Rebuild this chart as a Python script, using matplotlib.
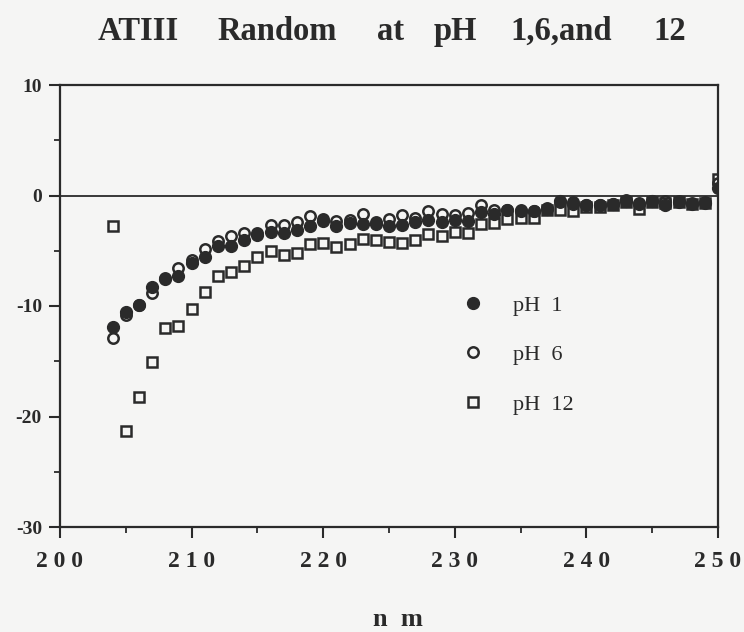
import matplotlib
matplotlib.use("Agg")
import matplotlib.pyplot as plt
import matplotlib.ticker as mticker
import numpy as np

plt.rcParams.update({
    "font.family": "Liberation Serif",
    "axes.unicode_minus": False,
    "figure.facecolor": "#f5f5f4",
    "axes.facecolor": "#f5f5f4",
})

# data
nm = np.arange(204, 251)

ph1 = [-11.9, -10.5, -9.9, -8.3, -7.6, -7.3, -6.1, -5.6, -4.6, -4.6,
       -4.0, -3.6, -3.3, -3.4, -3.1, -2.8, -2.3, -2.8, -2.5, -2.6,
       -2.6, -2.8, -2.7, -2.4, -2.2, -2.4, -2.2, -2.3, -1.5, -1.7,
       -1.3, -1.4, -1.4, -1.2, -0.5, -0.8, -0.9, -0.9, -0.8, -0.5,
       -0.8, -0.5, -0.9, -0.6, -0.8, -0.7, 0.7]

ph6 = [-12.9, -10.8, -9.9, -8.8, -7.5, -6.6, -5.8, -4.8, -4.1, -3.7,
       -3.4, -3.4, -2.7, -2.7, -2.4, -1.9, -2.1, -2.3, -2.2, -1.7,
       -2.4, -2.1, -1.8, -2.0, -1.4, -1.7, -1.8, -1.6, -0.9, -1.3,
       -1.3, -1.3, -1.4, -1.1, -0.6, -0.6, -0.9, -0.9, -0.8, -0.4,
       -0.7, -0.5, -0.5, -0.5, -0.7, -0.6, 1.1]

ph12 = [-2.8, -21.3, -18.2, -15.1, -12.0, -11.8, -10.3, -8.7, -7.3, -6.9,
        -6.4, -5.6, -5.0, -5.4, -5.2, -4.4, -4.3, -4.7, -4.4, -3.9,
        -4.0, -4.2, -4.3, -4.0, -3.5, -3.7, -3.3, -3.4, -2.6, -2.5,
        -2.1, -2.0, -2.0, -1.3, -1.3, -1.4, -1.0, -1.0, -0.9, -0.6,
        -1.2, -0.6, -0.7, -0.6, -0.8, -0.7, 1.5]

xticks = [200, 210, 220, 230, 240, 250]
xtick_labels = ["2 0 0", "2 1 0", "2 2 0", "2 3 0", "2 4 0", "2 5 0"]
yticks = [-30, -20, -10, 0, 10]

# title words, spread out like the typeset original
title_words = ["ATIII", "Random", "at", "pH", "1,6,and", "12"]
title_x = [98, 217, 377, 434, 510, 653]   # left edges, pixels

INK = "#2a2a2a"
W, H = 744, 632

fig = plt.figure(figsize=(W / 100, H / 100), dpi=100)
ax = fig.add_axes([60 / W, 1 - 527 / H, 658 / W, 442 / H])

ax.axhline(0, color=INK, lw=1.3, zorder=1)

ax.plot(nm, ph12, ls="none", marker="s", ms=7.5, mfc="none", mec=INK, mew=1.8,
        label="pH  12", zorder=2)
ax.plot(nm, ph1, ls="none", marker="o", ms=8.5, mfc=INK, mec=INK, mew=1,
        label="pH  1", zorder=3)
ax.plot(nm, ph6, ls="none", marker="o", ms=7.5, mfc="none", mec=INK, mew=1.8,
        label="pH  6", zorder=4)

ax.set_xlim(200, 250)
ax.set_ylim(-30, 10)
ax.set_xticks(xticks)
ax.xaxis.set_major_formatter(mticker.FixedFormatter(xtick_labels))
ax.xaxis.set_minor_locator(mticker.MultipleLocator(5))
ax.set_yticks(yticks)
ax.yaxis.set_minor_locator(mticker.MultipleLocator(5))

for s in ax.spines.values():
    s.set_color(INK)
    s.set_linewidth(1.6)
ax.tick_params(which="major", direction="out", length=8, width=1.5, color=INK,
               labelcolor=INK)
ax.tick_params(which="minor", direction="out", length=4, width=1.3, color=INK)
ax.tick_params(axis="y", which="both", right=False, labelsize=14, pad=5)
ax.tick_params(axis="x", which="both", top=False, labelsize=17, pad=9)
for lab in ax.get_xticklabels() + ax.get_yticklabels():
    lab.set_fontweight("bold")

handles, labels = ax.get_legend_handles_labels()
order = [1, 2, 0]
leg = ax.legend([handles[i] for i in order], [labels[i] for i in order],
                loc="upper left", bbox_to_anchor=(0.58, 0.57), frameon=False,
                fontsize=16, handletextpad=1.3, labelspacing=1.3, handlelength=1.0)
for t in leg.get_texts():
    t.set_color(INK)

for word, px in zip(title_words, title_x):
    fig.text(px / W, 1 - 40 / H, word, ha="left", va="baseline",
             fontsize=23.5, fontweight="bold", color=INK)
fig.text(0.535, 1 - 620 / H, "n  m", ha="center", va="center", fontsize=19,
         fontweight="bold", color=INK)

fig.savefig("out.png", dpi=100)
